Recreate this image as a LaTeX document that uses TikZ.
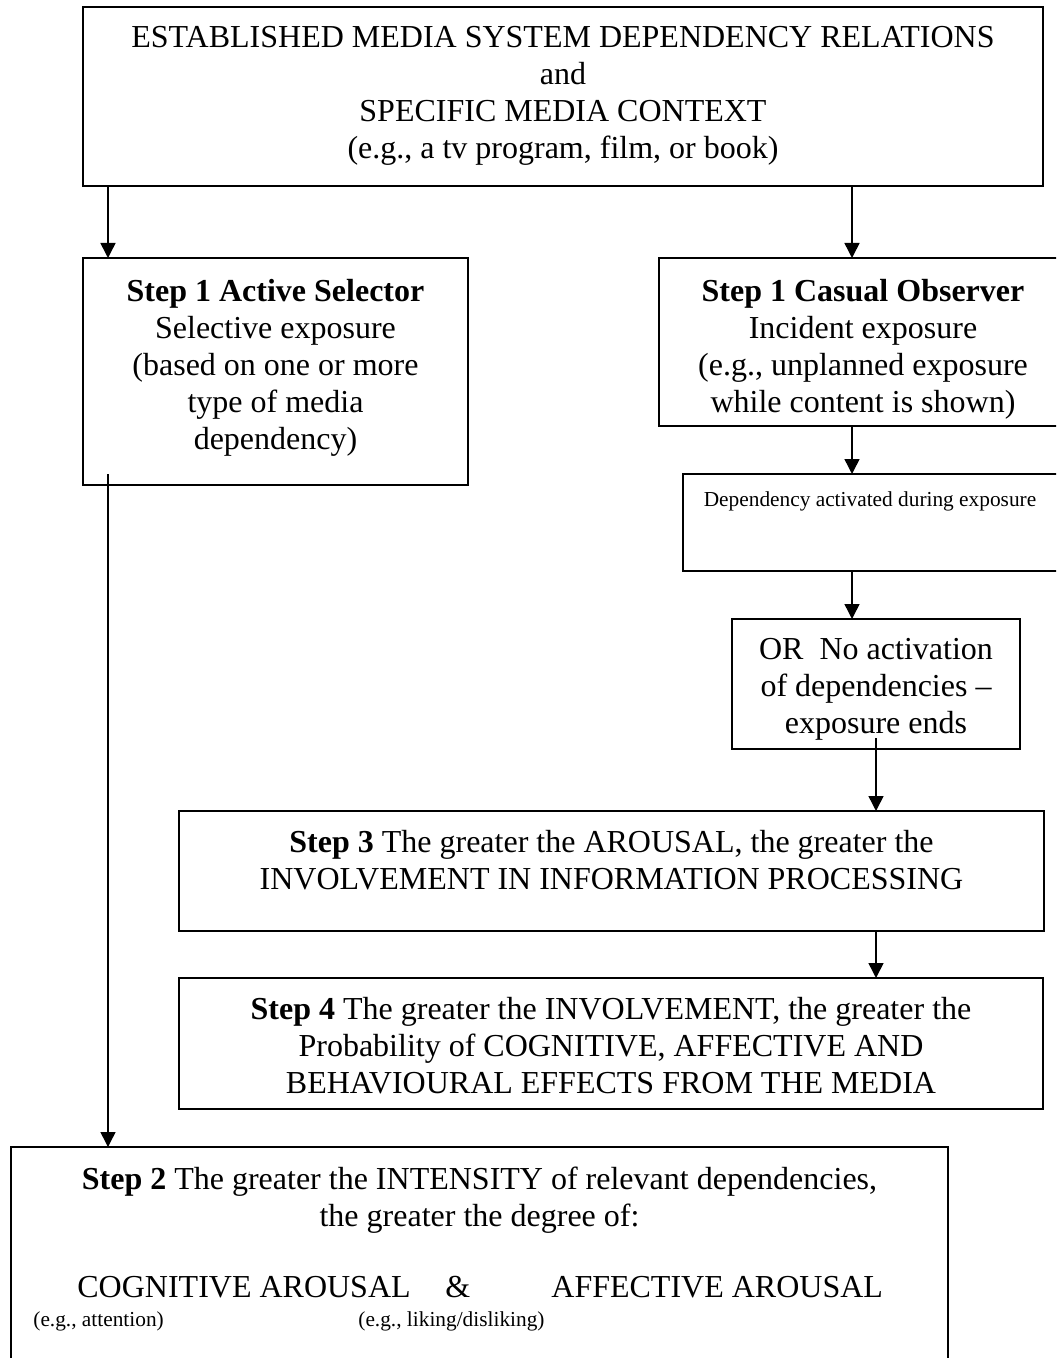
\documentclass[tikz,border=0pt]{standalone}
\usepackage{fontspec}
\setmainfont{Liberation Serif}
\usetikzlibrary{arrows.meta}
\begin{document}
\begin{tikzpicture}[x=0.5pt,y=-0.5pt,
  box/.style 2 args={draw, line width=0.75pt, inner sep=0pt, outer sep=0pt,
    minimum width=#1*0.5pt, minimum height=#2*0.5pt},
  txt/.style={align=center, inner sep=0pt, font=\fontsize{16}{18.5}\selectfont},
  small/.style={inner sep=0pt, font=\fontsize{10.67}{12.3}\selectfont},
  arr/.style={line width=0.75pt, -{Triangle[length=7.5pt,width=7.5pt]}}]

\useasboundingbox (0,0) rectangle (1056,1358);
\clip (0,0) rectangle (1056,1358);

% boxes
\node[box={960}{179}] (top) at (563,96.5) {};
\node[box={385}{227}] (act) at (275.5,371.5) {};
\node[box={408}{168}] (cas) at (863,342) {};
\node[box={375}{97}]  (dep) at (870.5,522.5) {};
\node[box={288}{130}] (orb) at (876,684) {};
\node[box={865}{120}] (s3)  at (611.5,871) {};
\node[box={864}{131}] (s4)  at (611,1043.5) {};
\node[box={937}{300}] (s2)  at (479.5,1297) {};

% connector columns
\coordinate (cl) at (108,0);
\coordinate (cr) at (852,0);
\coordinate (co) at (876,0);
\coordinate (astart) at (108,474);
\coordinate (ostart) at (876,738);

\draw[arr] (top.south -| cl) -- (act.north -| cl);
\draw[arr] (top.south -| cr) -- (cas.north -| cr);
\draw[arr] (cas.south -| cr) -- (dep.north -| cr);
\draw[arr] (dep.south -| cr) -- (orb.north -| cr);
\draw[arr] (ostart) -- (s3.north -| co);
\draw[arr] (s3.south -| co) -- (s4.north -| co);
\draw[arr] (astart) -- (s2.north -| cl);

% texts
\node[txt, anchor=north] (t-top) at (563,26)
  {ESTABLISHED MEDIA SYSTEM DEPENDENCY RELATIONS\\and\\SPECIFIC MEDIA CONTEXT\\(e.g., a tv program, film, or book)};
\node[txt, anchor=north] (t-act) at (275.5,279)
  {\textbf{Step 1 Active Selector}\\Selective exposure\\(based on one or more\\type of media\\dependency)};
\node[txt, anchor=north] (t-cas) at (863,279)
  {\textbf{Step 1 Casual Observer}\\Incident exposure\\(e.g., unplanned exposure\\while content is shown)};
\node[small, anchor=north] (t-dep) at (870,491) {Dependency activated during exposure};
\node[txt, anchor=north] (t-or) at (876,638)
  {OR\ \ No activation\\of dependencies –\\exposure ends};
\node[txt, anchor=north] (t-s3) at (611.5,830)
  {\textbf{Step 3} The greater the AROUSAL, the greater the\\INVOLVEMENT IN INFORMATION PROCESSING};
\node[txt, anchor=north] (t-s4) at (611,997)
  {\textbf{Step 4} The greater the INVOLVEMENT, the greater the\\Probability of COGNITIVE, AFFECTIVE AND\\BEHAVIOURAL EFFECTS FROM THE MEDIA};
\node[txt, anchor=north] (t-s2) at (479.5,1167)
  {\textbf{Step 2} The greater the INTENSITY of relevant dependencies,\\the greater the degree of:};
\node[txt, anchor=base west] (cog) at (77,1297.6) {COGNITIVE AROUSAL};
\node[txt, anchor=base west] (amp) at (445,1297.6) {\&};
\node[txt, anchor=base west] (aff) at (551,1297.6) {AFFECTIVE AROUSAL};
\node[small, anchor=base west] (ega) at (33,1326) {(e.g., attention)};
\node[small, anchor=base west] (egb) at (358,1326) {(e.g., liking/disliking)};
\end{tikzpicture}
\end{document}
